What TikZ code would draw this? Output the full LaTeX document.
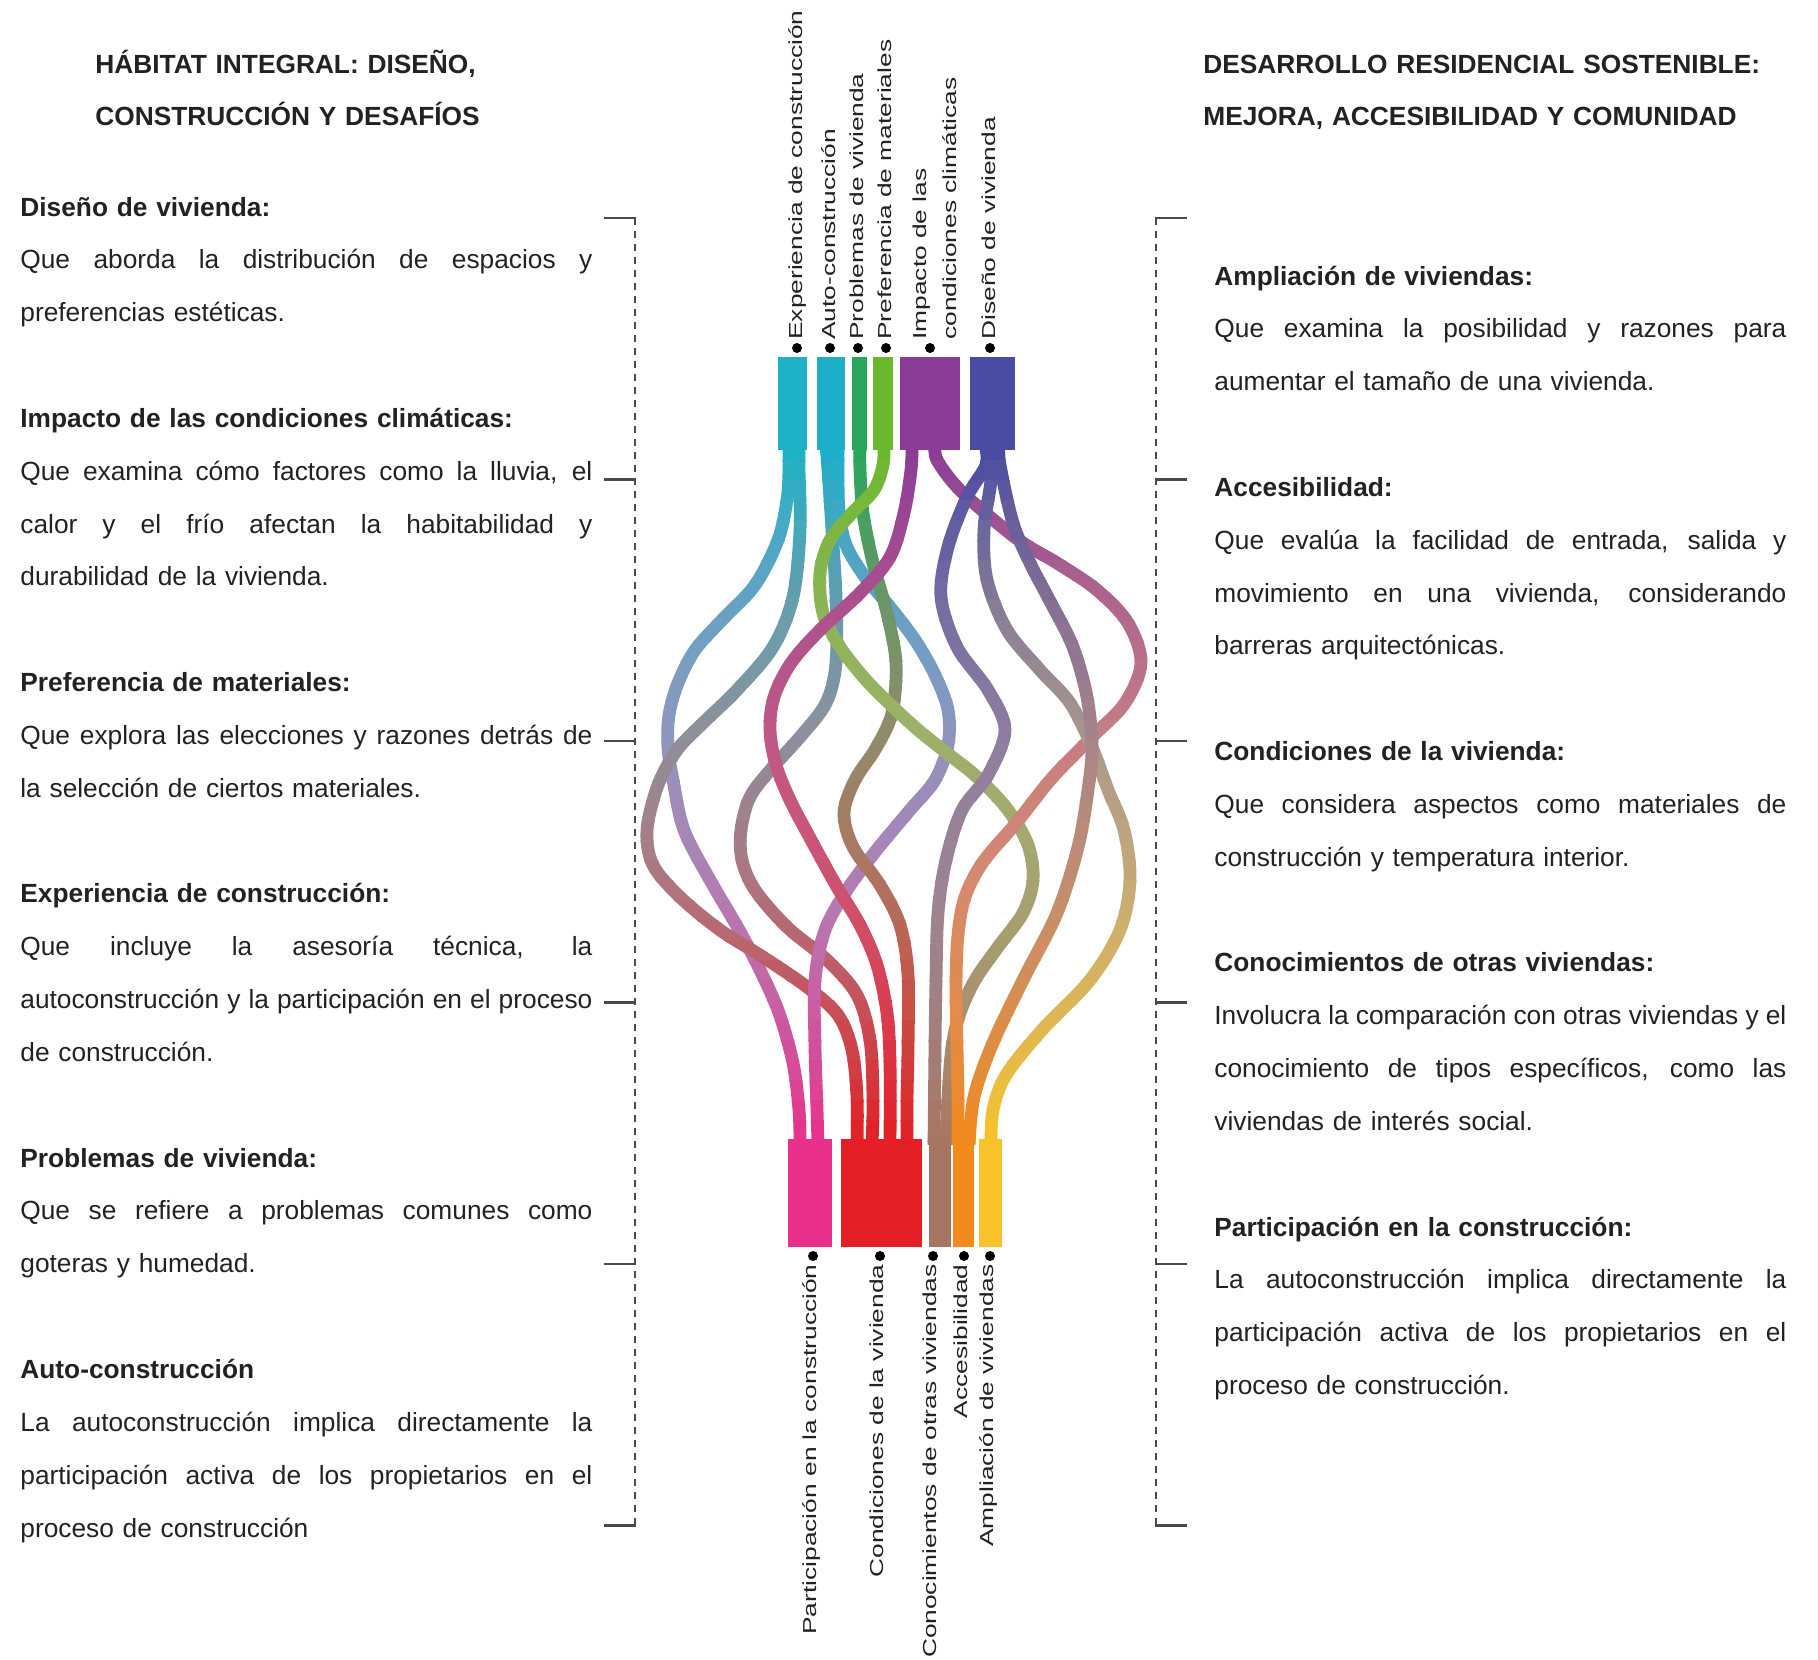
\documentclass[tikz,border=0pt]{standalone}
\usepackage{fontspec}
\usepackage{graphicx}
\setmainfont{Liberation Sans}

\definecolor{cExp}{HTML}{1FB2C6}
\definecolor{cAuto}{HTML}{1DAFC9}
\definecolor{cProb}{HTML}{27A65C}
\definecolor{cPref}{HTML}{6BB82E}
\definecolor{cImp}{HTML}{8A3C97}
\definecolor{cDis}{HTML}{4A4BA2}
\definecolor{cPart}{HTML}{E8308A}
\definecolor{cCond}{HTML}{E31E24}
\definecolor{cConoc}{HTML}{A77663}
\definecolor{cAcc}{HTML}{F28A1E}
\definecolor{cAmpl}{HTML}{F8C22A}
\definecolor{txt}{HTML}{222222}
\definecolor{brk}{HTML}{4A4A4A}

\newcommand\jl[1]{{\spaceskip=0pt\xspaceskip=0pt\makebox[286pt][s]{#1}}}
\newcommand\drawstrand[3]{%
  \foreach \k in {0,...,35}{%
    \pgfmathsetmacro\ya{440+20*\k}%
    \pgfmathsetmacro\yb{\ya+21}%
    \pgfmathsetmacro\tq{max(0,min(1,(\ya+10-450)/690))}%
    \pgfmathtruncatemacro\pc{100-100*\tq}%
    \pgfmathtruncatemacro\wh{100-20*sin(180*\tq)}%
    \begin{scope}
      \clip (560,\ya) rectangle (1200,\yb);
      \draw[strandline, draw=#1!\pc!#2!\wh!white] plot[smooth, tension=0.55] coordinates {#3};
    \end{scope}
  }%
}

\begin{document}
\begin{tikzpicture}[x=0.5pt, y=-0.5pt,
  box/.style={inner sep=0, outer sep=0},
  dotn/.style={circle, fill=black, inner sep=0, minimum size=5pt},
  lab/.style={rotate=90, inner sep=0, text height=7pt, text depth=2pt, text=txt, font=\fontsize{9.4}{11}\selectfont},
  toplab/.style={lab, anchor=west},
  botlab/.style={lab, anchor=east},
  sect/.style={anchor=base west, inner sep=0, text width=286pt, align=left, text=txt, font=\fontsize{13.15}{26.42}\selectfont},
  ttl/.style={anchor=base west, inner sep=0, text width=300pt, align=left, text=txt, font=\bfseries\fontsize{13.15}{26}\selectfont},
  strandline/.style={line width=6.4pt, line cap=butt},
  tick/.style={line width=1.1pt, draw=brk},
  vdash/.style={line width=1.3pt, draw=brk, dash pattern=on 3.5pt off 3pt}
]
\useasboundingbox (0,0) rectangle (1818,1659);
\fill[white] (0,0) rectangle (1818,1659);

% ---------- titles ----------
\node[ttl] (titleL) at (95,74) {HÁBITAT INTEGRAL: DISEÑO,\\CONSTRUCCIÓN Y DESAFÍOS};
\node[ttl] (titleR) at (1203,74) {DESARROLLO RESIDENCIAL SOSTENIBLE:\\MEJORA, ACCESIBILIDAD Y COMUNIDAD};

% ---------- left column ----------
\node[sect] (sDis) at (20,216) {\textbf{Diseño de vivienda:}\\
  \jl{Que aborda la distribución de espacios y}\\
  preferencias estéticas.};
\node[sect] (sImp) at (20,427.4) {\textbf{Impacto de las condiciones climáticas:}\\
  \jl{Que examina cómo factores como la lluvia, el}\\
  \jl{calor y el frío afectan la habitabilidad y}\\
  durabilidad de la vivienda.};
\node[sect] (sPref) at (20,691.6) {\textbf{Preferencia de materiales:}\\
  \jl{Que explora las elecciones y razones detrás de}\\
  la selección de ciertos materiales.};
\node[sect] (sExp) at (20,902.9) {\textbf{Experiencia de construcción:}\\
  \jl{Que incluye la asesoría técnica, la}\\
  \jl{autoconstrucción y la participación en el proceso}\\
  de construcción.};
\node[sect] (sProb) at (20,1167.1) {\textbf{Problemas de vivienda:}\\
  \jl{Que se refiere a problemas comunes como}\\
  goteras y humedad.};
\node[sect] (sAuto) at (20,1378.5) {\textbf{Auto-construcción}\\
  \jl{La autoconstrucción implica directamente la}\\
  \jl{participación activa de los propietarios en el}\\
  proceso de construcción};

% ---------- right column ----------
\node[sect] (sAmpl) at (1214,285) {\textbf{Ampliación de viviendas:}\\
  \jl{Que examina la posibilidad y razones para}\\
  aumentar el tamaño de una vivienda.};
\node[sect] (sAcc) at (1214,496.4) {\textbf{Accesibilidad:}\\
  \jl{Que evalúa la facilidad de entrada, salida y}\\
  \jl{movimiento en una vivienda, considerando}\\
  barreras arquitectónicas.};
\node[sect] (sCond) at (1214,760.6) {\textbf{Condiciones de la vivienda:}\\
  \jl{Que considera aspectos como materiales de}\\
  construcción y temperatura interior.};
\node[sect] (sConoc) at (1214,971.9) {\textbf{Conocimientos de otras viviendas:}\\
  \jl{Involucra la comparación con otras viviendas y el}\\
  \jl{conocimiento de tipos específicos, como las}\\
  viviendas de interés social.};
\node[sect] (sPart) at (1214,1236.1) {\textbf{Participación en la construcción:}\\
  \jl{La autoconstrucción implica directamente la}\\
  \jl{participación activa de los propietarios en el}\\
  proceso de construcción.};

% ---------- brackets ----------
\coordinate (LT) at (635,218);
\coordinate (LB) at (635,1525.5);
\draw[vdash] (LT) -- (LB);
\foreach \yy in {218,479.5,741,1002.5,1264,1525.5}
  \draw[tick] (604,\yy) -- (636,\yy);
\coordinate (RT) at (1156,218);
\coordinate (RB) at (1156,1525.5);
\draw[vdash] (RT) -- (RB);
\foreach \yy in {218,479.5,741,1002.5,1264,1525.5}
  \draw[tick] (1155,\yy) -- (1187,\yy);

% ---------- strand end points ----------
\coordinate (A0) at (789,445);  \coordinate (A1) at (800,1145);
\coordinate (B0) at (799,445);  \coordinate (B1) at (857,1145);
\coordinate (C0) at (826,445);  \coordinate (C1) at (872,1145);
\coordinate (D0) at (838,445);  \coordinate (D1) at (818,1145);
\coordinate (E0) at (860,445);  \coordinate (E1) at (907,1145);
\coordinate (F0) at (884,445);  \coordinate (F1) at (946,1145);
\coordinate (G0) at (912,445);  \coordinate (G1) at (890,1145);
\coordinate (H0) at (935,445);  \coordinate (H1) at (958,1145);
\coordinate (I0) at (985,445);  \coordinate (I1) at (934,1145);
\coordinate (J0) at (991,445);  \coordinate (J1) at (991,1145);
\coordinate (K0) at (999,445);  \coordinate (K1) at (969,1145);

% ---------- strands ----------
\drawstrand{cExp}{cPart}{(A0) (789,470) (787,500) (778,540) (755,585) (722,620) (695,650) (678,683) (669,715) (668,748) (673,780) (684,830) (710,880) (738,928) (760,970) (779,1013) (793,1063) (799,1110) (A1)}
\drawstrand{cExp}{cCond}{(B0) (799,470) (800,530) (793,597) (773,647) (737,690) (703,723) (677,750) (658,785) (647,830) (653,865) (680,897) (720,930) (763,957) (807,987) (838,1015) (852,1050) (857,1097) (B1)}
\drawstrand{cAuto}{cCond}{(C0) (828,470) (832,530) (836,597) (836,663) (826,703) (800,737) (772,768) (750,797) (741,830) (742,860) (755,890) (787,927) (827,960) (857,995) (870,1040) (873,1097) (C1)}
\drawstrand{cAuto}{cPart}{(D0) (838,470) (839,510) (846,545) (865,577) (890,607) (915,640) (935,675) (948,710) (948,745) (935,780) (910,810) (875,852) (847,890) (825,930) (815,980) (815,1047) (817,1110) (D1)}
\drawstrand{cProb}{cCond}{(E0) (860,470) (863,513) (873,563) (887,613) (896,663) (892,713) (876,748) (855,780) (844,813) (853,847) (880,885) (900,925) (908,975) (908,1047) (907,1100) (E1)}
\drawstrand{cPref}{cConoc}{(F0) (883,465) (874,490) (852,513) (830,540) (820,573) (823,613) (840,647) (866,680) (893,707) (917,729) (943,750) (977,777) (1008,810) (1028,845) (1033,880) (1023,913) (998,947) (975,980) (960,1013) (952,1047) (948,1097) (F1)}
\drawstrand{cImp}{cCond}{(G0) (911,470) (904,513) (890,557) (860,593) (820,630) (791,663) (774,697) (770,730) (776,765) (790,800) (810,838) (837,887) (860,925) (877,965) (887,1013) (890,1063) (G1)}
\drawstrand{cImp}{cAcc}{(H0) (937,460) (957,487) (990,517) (1023,543) (1057,563) (1097,590) (1128,623) (1141,663) (1125,703) (1092,737) (1052,778) (1017,822) (983,862) (965,897) (958,935) (956,985) (957,1047) (958,1100) (H1)}
\drawstrand{cDis}{cConoc}{(I0) (986,465) (967,497) (948,547) (941,597) (957,647) (988,690) (1005,730) (988,775) (962,810) (946,860) (938,913) (936,980) (935,1047) (I1)}
\drawstrand{cDis}{cAmpl}{(J0) (991,480) (984,530) (987,580) (1007,630) (1040,670) (1070,703) (1092,747) (1108,790) (1124,830) (1130,880) (1120,930) (1090,980) (1042,1030) (1006,1075) (993,1110) (J1)}
\drawstrand{cDis}{cAcc}{(K0) (1000,465) (1013,523) (1030,563) (1051,603) (1073,647) (1087,697) (1092,747) (1088,790) (1078,847) (1057,913) (1023,980) (992,1045) (974,1097) (K1)}

% ---------- top boxes ----------
\node[box, fill=cExp,  minimum width=14.5pt, minimum height=46.5pt] (bExp)  at (792.5,403.5) {};
\node[box, fill=cAuto, minimum width=14pt,   minimum height=46.5pt] (bAuto) at (831,403.5) {};
\node[box, fill=cProb, minimum width=7.5pt,  minimum height=46.5pt] (bProb) at (859.5,403.5) {};
\node[box, fill=cPref, minimum width=10pt,   minimum height=46.5pt] (bPref) at (883,403.5) {};
\node[box, fill=cImp,  minimum width=30pt,   minimum height=46.5pt] (bImp)  at (930,403.5) {};
\node[box, fill=cDis,  minimum width=22.5pt, minimum height=46.5pt] (bDis)  at (992.5,403.5) {};

% ---------- bottom boxes ----------
\node[box, fill=cPart,  minimum width=22pt,   minimum height=54pt] (bPart)  at (810,1193) {};
\node[box, fill=cCond,  minimum width=40.5pt, minimum height=54pt] (bCond)  at (881.5,1193) {};
\node[box, fill=cConoc, minimum width=11pt,   minimum height=54pt] (bConoc) at (940,1193) {};
\node[box, fill=cAcc,   minimum width=10.5pt, minimum height=54pt] (bAcc)   at (963.5,1193) {};
\node[box, fill=cAmpl,  minimum width=11.5pt, minimum height=54pt] (bAmpl)  at (990.5,1193) {};

% ---------- top dots and labels ----------
\node[dotn] (dExp)  at (797,348) {};
\node[dotn] (dAuto) at (830,348) {};
\node[dotn] (dProb) at (858,348) {};
\node[dotn] (dPref) at (886,348) {};
\node[dotn] (dImp)  at (930,348) {};
\node[dotn] (dDis)  at (990,348) {};
\node[toplab] (lExp)  at (797,340) {\scalebox{1.4}[1]{Experiencia de construcción}};
\node[toplab] (lAuto) at (830,340) {\scalebox{1.4}[1]{Auto-construcción}};
\node[toplab] (lProb) at (858,340) {\scalebox{1.4}[1]{Problemas de vivienda}};
\node[toplab] (lPref) at (886,340) {\scalebox{1.4}[1]{Preferencia de materiales}};
\node[toplab] (lImpA) at (921,340) {\scalebox{1.4}[1]{Impacto de las}};
\node[toplab] (lImpB) at (951,340) {\scalebox{1.4}[1]{condiciones climáticas}};
\node[toplab] (lDis)  at (990,340) {\scalebox{1.4}[1]{Diseño de vivienda}};

% ---------- bottom dots and labels ----------
\node[dotn] (dPart)  at (813,1256) {};
\node[dotn] (dCond)  at (880,1256) {};
\node[dotn] (dConoc) at (933,1256) {};
\node[dotn] (dAcc)   at (964,1256) {};
\node[dotn] (dAmpl)  at (990,1256) {};
\node[botlab] (lPart)  at (811,1264) {\scalebox{1.4}[1]{Participación en la construcción}};
\node[botlab] (lCond)  at (878,1264) {\scalebox{1.4}[1]{Condiciones de la vivienda}};
\node[botlab] (lConoc) at (931,1264) {\scalebox{1.4}[1]{Conocimientos de otras viviendas}};
\node[botlab] (lAcc)   at (962,1264) {\scalebox{1.4}[1]{Accesibilidad}};
\node[botlab] (lAmpl)  at (988,1264) {\scalebox{1.4}[1]{Ampliación de viviendas}};
\end{tikzpicture}
\end{document}
